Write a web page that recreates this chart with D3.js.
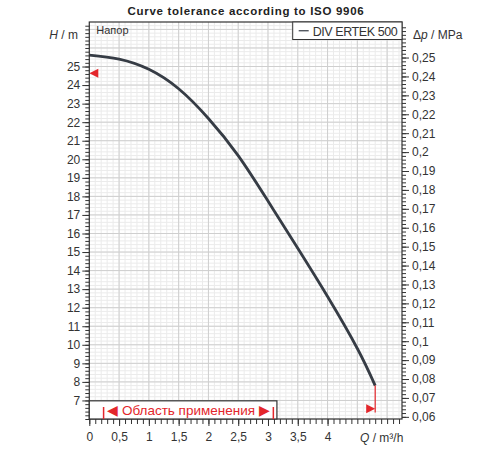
<!DOCTYPE html>
<html lang="en">
<head>
<meta charset="UTF-8">
<title>Curve tolerance</title>
<style>
  body { margin: 0; background: #fff; }
  text { font-family: "Liberation Sans", Arial, sans-serif; }
</style>
</head>
<body>
<script src="https://cdn.jsdelivr.net/npm/d3@7/dist/d3.min.js"></script>
<script>
// pump curve
const flow = [0, 0.5, 1, 1.5, 2, 2.5, 3, 3.5, 4, 4.5, 4.8];
const head = [25.62, 25.4, 24.85, 23.8, 22.2, 20.2, 17.75, 15.2, 12.6, 9.8, 7.8];

const flowTicks = [0, 0.5, 1, 1.5, 2, 2.5, 3, 3.5, 4];
const headTicks = [7, 8, 9, 10, 11, 12, 13, 14, 15, 16, 17, 18, 19, 20, 21, 22, 23, 24, 25];
const pressTicks = [0.06, 0.07, 0.08, 0.09, 0.1, 0.11, 0.12, 0.13, 0.14, 0.15, 0.16, 0.17, 0.18, 0.19, 0.2, 0.21, 0.22, 0.23, 0.24, 0.25];

const rangeStart = 0.24, rangeEnd = 3.09;   // "Область применения"
const headMark = 24.64;                      // left red marker
const seriesName = "DIV ERTEK 500";

const width = 500, height = 450;
const m = {left: 89.3, right: 402, top: 22, bottom: 419};
const mPerMPa = 0.00981;

const x = d3.scaleLinear().domain([0, 5.25]).range([m.left, m.right]);
const y = d3.scaleLinear().domain([6, 27.4]).range([m.bottom, m.top]);
const yp = d3.scaleLinear().domain([6 * mPerMPa, 27.4 * mPerMPa]).range([m.bottom, m.top]);

const comma = d => String(+d.toFixed(3)).replace('.', ',');

const svg = d3.create('svg')
    .attr('width', width)
    .attr('height', height)
    .attr('viewBox', [0, 0, width, height]);

// grid
const grid = svg.append('g');
grid.selectAll('.vmin').data(d3.range(0, 5.25, 0.1).map(v => +v.toFixed(2)))
    .join('line')
    .attr('x1', d => x(d)).attr('x2', d => x(d))
    .attr('y1', m.top).attr('y2', m.bottom)
    .attr('stroke', '#ebebeb');
grid.selectAll('.hmin').data(d3.range(6, 27.4, 0.2).map(v => +v.toFixed(2)))
    .join('line')
    .attr('y1', d => y(d)).attr('y2', d => y(d))
    .attr('x1', m.left).attr('x2', m.right)
    .attr('stroke', '#ebebeb');
grid.selectAll('.vmaj').data(d3.range(0.5, 5.25, 0.5))
    .join('line')
    .attr('x1', d => x(d)).attr('x2', d => x(d))
    .attr('y1', m.top).attr('y2', m.bottom)
    .attr('stroke', '#cfcfcf');
grid.selectAll('.hmaj').data(d3.range(7, 28, 1))
    .join('line')
    .attr('y1', d => y(d)).attr('y2', d => y(d))
    .attr('x1', m.left).attr('x2', m.right)
    .attr('stroke', '#cfcfcf');

// curve
const line = d3.line()
    .x((d, i) => x(flow[i]))
    .y(d => y(d))
    .curve(d3.curveNatural);

svg.append('path')
    .datum(head)
    .attr('d', line)
    .attr('fill', 'none')
    .attr('stroke', '#363c45')
    .attr('stroke-width', 2.8);

// red markers
const red = '#e3262b';
const endQ = flow[flow.length - 1];
svg.append('line')
    .attr('x1', x(endQ)).attr('x2', x(endQ))
    .attr('y1', y(head[head.length - 1])).attr('y2', y(6.35))
    .attr('stroke', red).attr('stroke-width', 1.2);
svg.append('path')
    .attr('d', `M${x(endQ)},${y(6.55)} l-9,-4.5 l0,9 z`)
    .attr('fill', red);
svg.append('path')
    .attr('d', `M${m.left},${y(headMark)} l9,-4.5 l0,9 z`)
    .attr('fill', red);

// frame
svg.append('rect')
    .attr('x', m.left).attr('y', m.top)
    .attr('width', m.right - m.left).attr('height', m.bottom - m.top)
    .attr('fill', 'none').attr('stroke', '#333').attr('stroke-width', 1.2);

// application range box
const boxTop = y(6.98);
svg.append('rect')
    .attr('x', m.left).attr('y', boxTop)
    .attr('width', x(3.15) - m.left).attr('height', m.bottom - boxTop)
    .attr('fill', '#fff').attr('stroke', '#333').attr('stroke-width', 1.2);
[rangeStart, rangeEnd].forEach(q => {
  svg.append('line')
      .attr('x1', x(q)).attr('x2', x(q))
      .attr('y1', m.bottom - 12).attr('y2', m.bottom)
      .attr('stroke', red).attr('stroke-width', 1.5);
});
svg.append('text')
    .attr('x', (x(rangeStart) + x(rangeEnd)) / 2)
    .attr('y', m.bottom - 4.5)
    .attr('text-anchor', 'middle')
    .attr('font-size', 13.5)
    .attr('fill', red)
    .text('◀ Область применения ▶');

// legend
const legX = 292.7, legH = 17.5;
svg.append('rect')
    .attr('x', legX).attr('y', m.top)
    .attr('width', m.right - legX).attr('height', legH)
    .attr('fill', '#fff').attr('stroke', '#333').attr('stroke-width', 1);
svg.append('line')
    .attr('x1', legX + 6).attr('x2', legX + 16)
    .attr('y1', m.top + legH / 2).attr('y2', m.top + legH / 2)
    .attr('stroke', '#363c45').attr('stroke-width', 1.2);
svg.append('text')
    .attr('x', legX + 20).attr('y', m.top + 13.5)
    .attr('font-size', 12.5).attr('fill', '#333')
    .attr('textLength', 85)
    .text(seriesName);

svg.append('text')
    .attr('x', m.left + 7).attr('y', m.top + 12)
    .attr('font-size', 11).attr('fill', '#333')
    .text('Напор');

// left axis
svg.append('g')
    .attr('transform', `translate(${m.left},0)`)
    .call(d3.axisLeft(y).tickValues(headTicks).tickSize(7).tickPadding(2).tickFormat(comma));
svg.append('g')
    .attr('transform', `translate(${m.left},0)`)
    .call(d3.axisLeft(y).tickValues(d3.range(6, 27.4, 0.2).map(v => +v.toFixed(2))).tickSize(4).tickFormat(''));

// right axis
svg.append('g')
    .attr('transform', `translate(${m.right},0)`)
    .call(d3.axisRight(yp).tickValues(pressTicks).tickSize(7).tickPadding(3).tickFormat(comma));
svg.append('g')
    .attr('transform', `translate(${m.right},0)`)
    .call(d3.axisRight(yp).tickValues(d3.range(0.06, 0.268, 0.002).map(v => +v.toFixed(4))).tickSize(4).tickFormat(''));

// bottom axis
svg.append('g')
    .attr('transform', `translate(0,${m.bottom})`)
    .call(d3.axisBottom(x).tickValues(flowTicks).tickSize(7).tickPadding(6).tickFormat(comma));
svg.append('g')
    .attr('transform', `translate(0,${m.bottom})`)
    .call(d3.axisBottom(x).tickValues(d3.range(0, 5.25, 0.1).map(v => +v.toFixed(2))).tickSize(5).tickFormat(''));

svg.selectAll('.domain').remove();
svg.selectAll('.tick line').attr('stroke', '#333');
svg.selectAll('.tick text')
    .attr('font-family', '"Liberation Sans", Arial, sans-serif')
    .attr('font-size', 12)
    .attr('fill', '#333');

// axis titles
const ht = svg.append('text').attr('x', 78).attr('y', 39)
    .attr('text-anchor', 'end').attr('font-size', 12).attr('fill', '#333');
ht.append('tspan').attr('font-style', 'italic').text('H');
ht.append('tspan').text(' / m');

const pt = svg.append('text').attr('x', 413).attr('y', 39)
    .attr('font-size', 12).attr('fill', '#333');
pt.append('tspan').text('Δ');
pt.append('tspan').attr('font-style', 'italic').text('p');
pt.append('tspan').text(' / MPa');

const qt = svg.append('text').attr('x', 360).attr('y', 442)
    .attr('font-size', 12).attr('fill', '#333');
qt.append('tspan').attr('font-style', 'italic').text('Q');
qt.append('tspan').text(' / m³/h');

// title
svg.append('text')
    .attr('x', 246).attr('y', 15)
    .attr('text-anchor', 'middle')
    .attr('font-family', '"DejaVu Sans", sans-serif')
    .attr('font-weight', 'bold')
    .attr('font-size', 11.5)
    .attr('letter-spacing', 0.7)
    .attr('fill', '#222')
    .text('Curve tolerance according to ISO 9906');

document.querySelector('body').appendChild(svg.node());
</script>
</body>
</html>
